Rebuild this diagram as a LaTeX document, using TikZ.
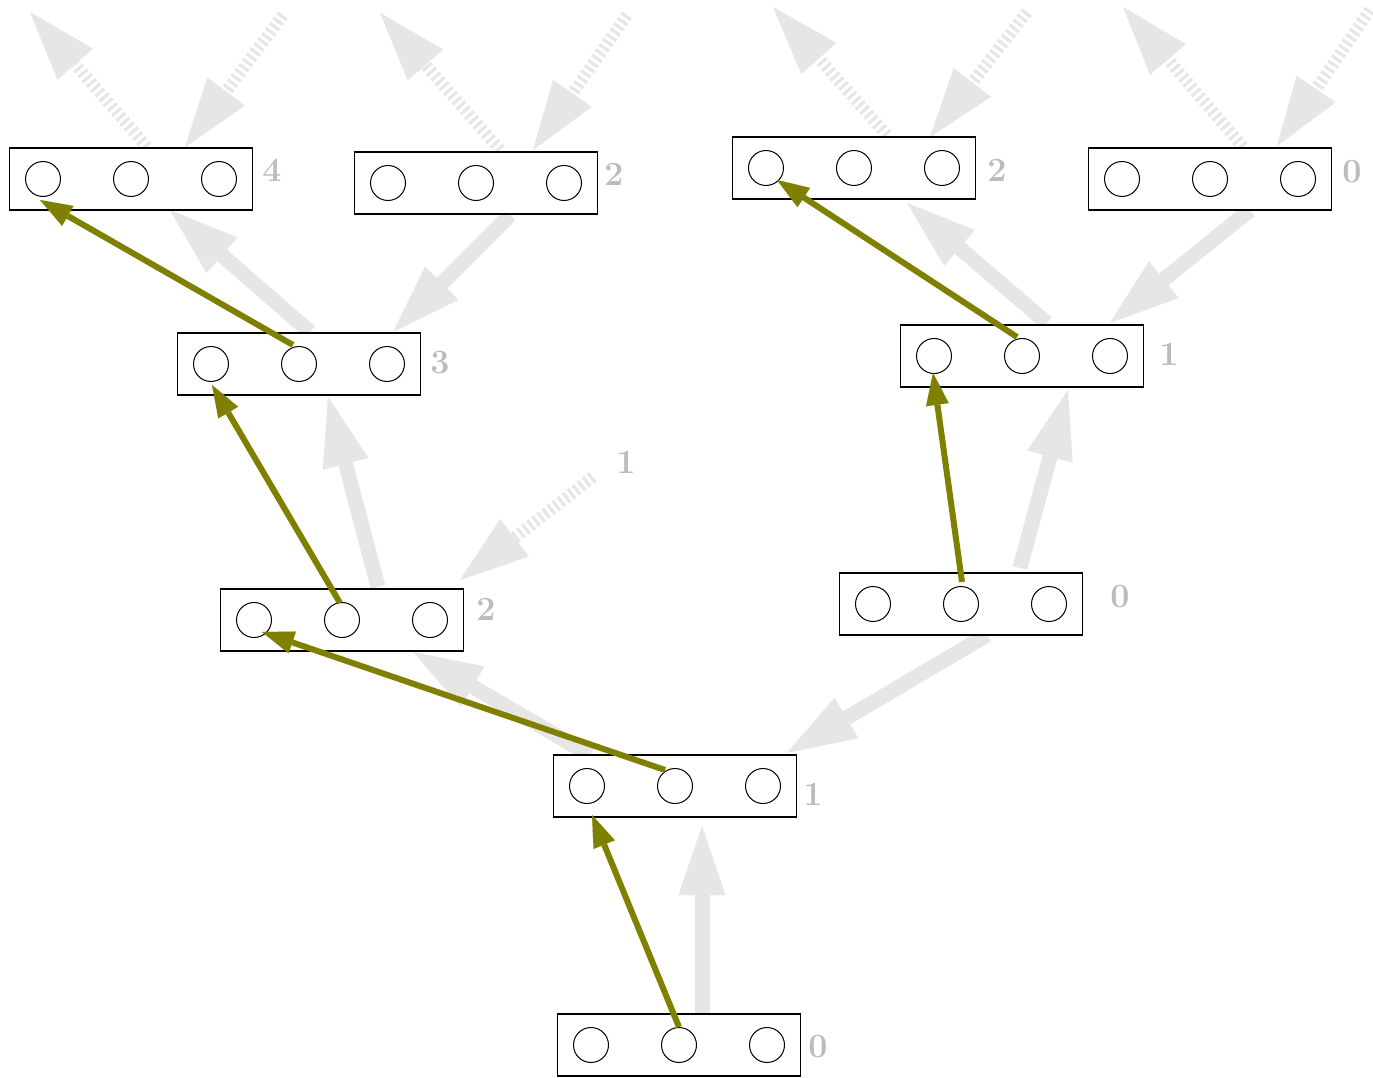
\documentclass[tikz,border=0pt]{standalone}
\usetikzlibrary{arrows.meta,calc}
\definecolor{arrgray}{RGB}{230,230,230}
\definecolor{lblgray}{RGB}{188,188,188}
\definecolor{myolive}{RGB}{128,128,0}
\pgfdeclarelayer{bg}
\pgfsetlayers{bg,main}
\newcommand\mkbox[6]{%
  \node[blk] (#1) at (#2,#3) {};
  \node[circ] (#1c1) at ($(#1)+(-88,0)$) {};
  \node[circ] (#1c2) at (#1) {};
  \node[circ] (#1c3) at ($(#1)+(88,0)$) {};
  \node[lbl] (#1l) at ($(#1)+(#5,#6)$) {#4};
}
\begin{document}
\begin{tikzpicture}[x=1pt,y=-1pt,
  blk/.style={draw=black,fill=white,line width=1.2pt,minimum width=243pt,minimum height=62pt,inner sep=0pt},
  circ/.style={draw=black,circle,line width=1pt,minimum size=35pt,inner sep=0pt},
  lbl/.style={text=lblgray,font=\fontsize{34}{36}\selectfont\bfseries,inner sep=0pt},
  garr/.style={draw=arrgray,line width=15pt,-{Triangle[length=69pt,width=47pt,line width=0.01pt]}},
  darr/.style={garr,line width=12pt,dash pattern=on 3.2pt off 3.2pt},
  oarr/.style={draw=myolive,line width=6pt,-{Triangle[length=32pt,width=23pt,line width=0.01pt]}}]
\useasboundingbox (0,0) rectangle (1373,1078);

\mkbox{b0}{679}{1045}{0}{139}{2}
\mkbox{b1}{675}{786}{1}{138}{8}
\mkbox{b2}{342}{620}{2}{144}{-11}
\mkbox{b3}{299}{364}{3}{141}{-1}
\mkbox{b4}{131}{179}{4}{141}{-9}
\mkbox{b5}{476}{183}{2}{138}{-9}
\mkbox{b6}{961}{604}{0}{159}{-7}
\mkbox{b7}{1022}{356}{1}{147}{-2}
\mkbox{b8}{854}{168}{2}{143}{2}
\mkbox{b9}{1210}{179}{0}{142}{-7}
\node[lbl] (fl) at (626,462) {1};

\begin{pgfonlayer}{bg}
\draw[garr] ($(b0)+(23,-31)$) -- ($(b1)+(27,40)$);
\draw[garr] ($(b1)+(-85,-31)$) -- ($(b2)+(71,32)$);
\draw[garr] ($(b6)+(26,31)$) -- ($(b1)+(112,-33)$);
\draw[garr] ($(b2)+(36,-33)$) -- ($(b3)+(29,33)$);
\draw[darr] ($(fl)+(-33,15)$) -- ($(b2)+(118,-40)$);
\draw[garr] ($(b3)+(11,-32)$) -- ($(b4)+(39,31)$);
\draw[garr] ($(b5)+(34,32)$) -- ($(b3)+(94,-32)$);
\draw[darr] ($(b4)+(16,-32)$) -- ($(b4)+(-101,-167)$);
\draw[darr] ($(b4)+(152,-164)$) -- ($(b4)+(54,-32)$);
\draw[darr] ($(b5)+(24,-33)$) -- ($(b5)+(-96,-170)$);
\draw[darr] ($(b5)+(151,-168)$) -- ($(b5)+(57,-33)$);
\draw[darr] ($(b8)+(33,-33)$) -- ($(b8)+(-81,-161)$);
\draw[darr] ($(b8)+(173,-156)$) -- ($(b8)+(76,-31)$);
\draw[darr] ($(b9)+(33,-32)$) -- ($(b9)+(-87,-172)$);
\draw[darr] ($(b9)+(160,-169)$) -- ($(b9)+(67,-33)$);
\draw[garr] ($(b6)+(59,-36)$) -- ($(b7)+(46,34)$);
\draw[garr] ($(b7)+(25,-33)$) -- ($(b8)+(53,35)$);
\draw[garr] ($(b9)+(40,31)$) -- ($(b7)+(88,-33)$);
\end{pgfonlayer}

\draw[oarr] ($(b0c2)+(0,-18)$) -- ($(b1c1)+(5,29)$);
\draw[oarr] ($(b1c2)+(-10,-16)$) -- ($(b2c1)+(8,12)$);
\draw[oarr] ($(b2c2)+(-2,-17)$) -- ($(b3c1)+(1,21)$);
\draw[oarr] ($(b3c2)+(-6,-19)$) -- ($(b4c1)+(-3,21)$);
\draw[oarr] ($(b6c2)+(1,-22)$) -- ($(b7c1)+(-1,17)$);
\draw[oarr] ($(b7c2)+(-5,-19)$) -- ($(b8c1)+(11,12)$);
\end{tikzpicture}
\end{document}
